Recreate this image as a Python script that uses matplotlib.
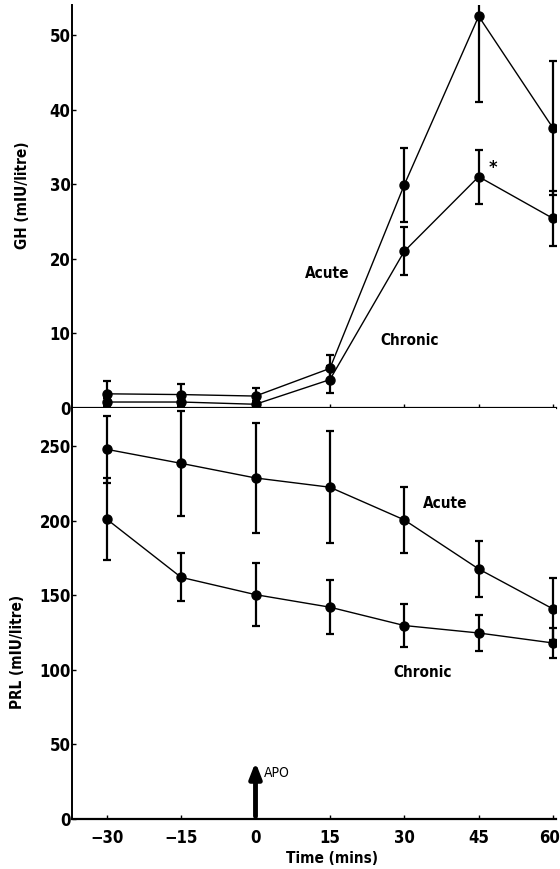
import matplotlib
matplotlib.use("Agg")
import matplotlib.pyplot as plt
from matplotlib.transforms import ScaledTranslation

# time points (mins), APO given at 0
times = [-30, -15, 0, 15, 30, 45, 60]

# growth hormone, mIU/litre
gh_acute = [1.9, 1.8, 1.6, 5.3, 29.9, 52.5, 37.5]
gh_acute_err = [1.7, 1.4, 1.1, 1.8, 5.0, 11.5, 9.0]
gh_chronic = [0.8, 0.8, 0.5, 3.8, 21.0, 31.0, 25.4]
gh_chronic_err = [0.5, 0.5, 0.4, 1.8, 3.2, 3.6, 3.7]

# prolactin, mIU/litre
prl_acute = [247.8, 238.4, 228.6, 222.4, 200.5, 167.6, 140.8]
prl_acute_err = [22.5, 35.0, 37.0, 37.5, 22.0, 19.0, 21.0]
prl_chronic = [201.0, 162.0, 150.4, 142.0, 129.7, 124.7, 118.0]
prl_chronic_err = [27.5, 16.0, 21.0, 18.0, 14.3, 12.0, 10.0]

time_labels = ["\u221230", "\u221215", "0", "15", "30", "45", "60"]

plt.rcParams["font.family"] = ["DejaVu Sans"]
plt.rcParams["font.stretch"] = "condensed"
plt.rcParams["font.weight"] = "bold"

fig = plt.figure(figsize=(5.6, 8.69), dpi=100)
ax1 = fig.add_axes([0.1286, 0.5305, 0.8643, 0.4637])
ax2 = fig.add_axes([0.1286, 0.0575, 0.8643, 0.473])

style = dict(color="black", marker="o", markersize=6.5, lw=1.0,
             elinewidth=1.6, capsize=3, capthick=1.6)

ax1.errorbar(times, gh_acute, yerr=gh_acute_err, **style)
ax1.errorbar(times, gh_chronic, yerr=gh_chronic_err, **style)
ax2.errorbar(times, prl_acute, yerr=prl_acute_err, **style)
ax2.errorbar(times, prl_chronic, yerr=prl_chronic_err, **style)

for ax in (ax1, ax2):
    ax.set_xlim(-37, 60.6)
    ax.spines["top"].set_visible(False)
    ax.spines["right"].set_visible(False)
    ax.spines["left"].set_linewidth(1.4)
    ax.spines["bottom"].set_linewidth(1.6)
    ax.tick_params(direction="in", length=3, width=1, labelsize=12)

ax1.set_ylim(0, 54)
ax1.set_yticks([0, 10, 20, 30, 40, 50])
ax1.set_xticks(times)
ax1.tick_params(axis="x", labelbottom=False)
ax1.tick_params(axis="y", pad=1)

ax2.set_ylim(0, 275.5)
ax2.set_yticks([0, 50, 100, 150, 200, 250])
ax2.set_xticks(times)
ax2.set_xticklabels(time_labels)
ax2.tick_params(axis="x", pad=7)
ax2.tick_params(axis="y", pad=1)
# last label sits right at the edge, nudge it in a little
last = ax2.get_xticklabels()[-1]
last.set_transform(last.get_transform() + ScaledTranslation(-3 / 100, 0, fig.dpi_scale_trans))

ax1.text(14.4, 18.0, "Acute", fontsize=11, ha="center", va="center")
ax1.text(31.1, 9.0, "Chronic", fontsize=11, ha="center", va="center")
ax1.text(47.9, 32.2, "*", fontsize=13, ha="center", va="center")

ax2.text(38.2, 211.8, "Acute", fontsize=11, ha="center", va="center")
ax2.text(33.8, 98.5, "Chronic", fontsize=11, ha="center", va="center")

ax2.annotate("", xy=(0, 40), xytext=(0, 0),
             arrowprops=dict(arrowstyle="-|>,head_width=0.35,head_length=0.9",
                             color="black", lw=3.5))
ax2.text(1.6, 31, "APO", fontsize=10, fontweight="normal", ha="left", va="center")

ax2.set_xlabel("Time (mins)", fontsize=11, fontweight="bold")
ax2.xaxis.set_label_coords(0.537, -0.078)

fig.text(0.04, 1 - 195 / 869, "GH (mIU/litre)", rotation=90, fontsize=11,
         fontweight="bold", ha="center", va="center")
fig.text(0.032, 1 - 652 / 869, "PRL (mIU/litre)", rotation=90, fontsize=11,
         fontweight="bold", ha="center", va="center")

fig.savefig("out.png", dpi=100)
